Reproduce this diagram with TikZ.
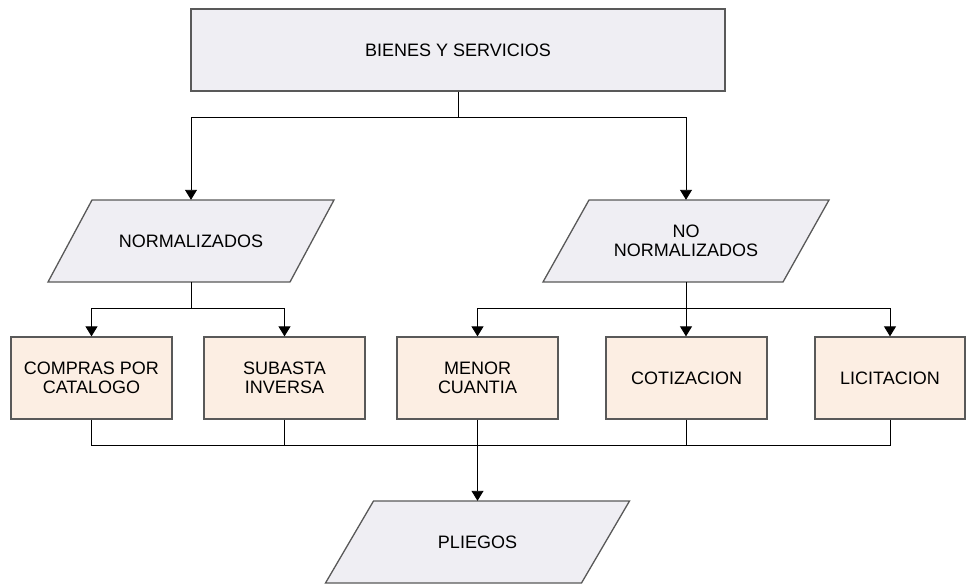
\documentclass[tikz,border=0pt]{standalone}
\usepackage{fontspec}
\setmainfont{Liberation Sans}
\usetikzlibrary{arrows.meta}
\definecolor{lila}{HTML}{EFEEF3}
\definecolor{durazno}{HTML}{FCEEE3}
% paralelogramo de datos: centro x, centro y, ancho, desplazamiento
\newcommand{\paral}[4]{\filldraw[draw=black!65, line width=1.3pt, fill=lila](#1, #2)++({-#3/2+#4/2}, -41)--++(#3, 0)--++(-#4, 82)--++(-#3, 0)--cycle;}

\begin{document}
\begin{tikzpicture}[x=1pt, y=-1pt, font=\fontsize{18}{19.5}\selectfont,
		caja/.style={draw=black!65, line width=1.3pt, fill=durazno, minimum width=161pt, minimum height=82pt, align=center, inner sep=0pt},
		datos/.style={minimum width=190pt, minimum height=82pt, align=center, inner sep=0pt},
		flecha/.style={-{Triangle[width=12pt, length=10pt]}, line width=0.9pt}]
		\useasboundingbox (0, 0) rectangle (966, 584);
		% niveles
		\node[draw=black!65, line width=1.3pt, fill=lila, minimum width=534pt, minimum height=82pt](bienes) at (458, 50){BIENES Y SERVICIOS};
		\paral{191}{241}{242}{44}
		\node[datos](norm) at (191, 241){NORMALIZADOS};
		\paral{686}{241}{240}{46}
		\node[datos](nonorm) at (686, 241){NO\\NORMALIZADOS};
		\node[caja](compras) at (91.5, 378){COMPRAS POR\\CATALOGO};
		\node[caja](subasta) at (284.5, 378){SUBASTA\\INVERSA};
		\node[caja](menor) at (477.5, 378){MENOR\\CUANTIA};
		\node[caja](cotiz) at (686.5, 378){COTIZACION};
		\node[caja, minimum width=150pt](licit) at (890, 378){LICITACION};
		\paral{477.5}{542}{256}{48}
		\node[datos](pliegos) at (477.5, 542){PLIEGOS};
		\coordinate (union) at (477.5, 445);
		% conexiones
		\draw[flecha](bienes.south)--++(0, 26)-|(norm.north);
		\draw[flecha](bienes.south)--++(0, 26)-|(nonorm.north);
		\draw[flecha](norm.south)--++(0, 26)-|(compras.north);
		\draw[flecha](norm.south)--++(0, 26)-|(subasta.north);
		\draw[flecha](nonorm.south)--++(0, 26)-|(menor.north);
		\draw[flecha](nonorm.south)--(nonorm.south|-cotiz.north);
		\draw[flecha](nonorm.south)--++(0, 26)-|(licit.north);
		\draw[line width=0.9pt](compras.south)|-(union);
		\draw[line width=0.9pt](subasta.south)|-(union);
		\draw[line width=0.9pt](cotiz.south)|-(union);
		\draw[line width=0.9pt](licit.south)|-(union);
		\draw[flecha](menor.south)--(pliegos.north);
	\end{tikzpicture}
\end{document}
